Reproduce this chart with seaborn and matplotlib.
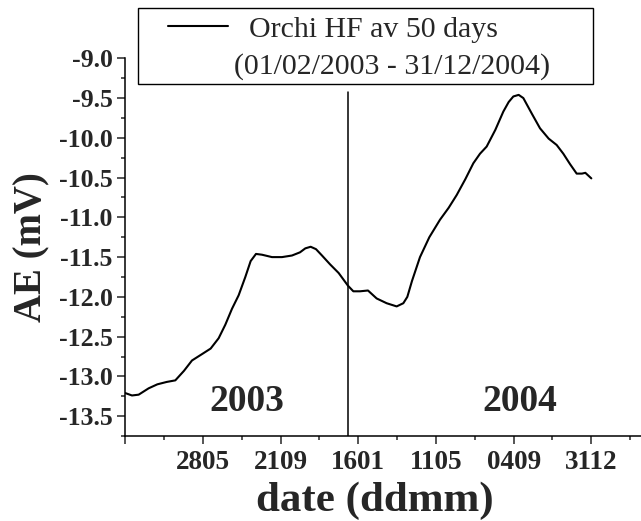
import numpy as np
import pandas as pd
import matplotlib
matplotlib.use("Agg")
import matplotlib.pyplot as plt
from matplotlib.patches import Rectangle
from matplotlib.ticker import MultipleLocator, FixedLocator
import seaborn as sns

# ── Data: days since 01/02/2003, 50-day running mean of AE (mV) ────────────
days = [0, 10, 20, 35, 48, 62, 75, 88, 100, 115, 128, 140, 150, 160, 170,
        180, 188, 196, 205, 220, 235, 250, 262, 270, 278, 286, 295, 307,
        320, 334, 342, 352, 364, 377, 392, 407, 417, 423, 430, 442, 456,
        472, 485, 497, 510, 522, 532, 542, 555, 567, 575, 582, 590, 597,
        610, 622, 635, 647, 657, 667, 677, 685, 690, 699]
ae_mv = [-13.21, -13.24, -13.23, -13.15, -13.10, -13.07, -13.05, -12.93,
         -12.80, -12.72, -12.65, -12.52, -12.35, -12.15, -11.98, -11.75,
         -11.55, -11.46, -11.47, -11.50, -11.50, -11.48, -11.44, -11.39,
         -11.37, -11.40, -11.48, -11.59, -11.70, -11.86, -11.93, -11.93,
         -11.92, -12.02, -12.08, -12.12, -12.08, -12.00, -11.80, -11.50,
         -11.25, -11.03, -10.88, -10.72, -10.52, -10.32, -10.20, -10.11,
         -9.90, -9.67, -9.55, -9.48, -9.46, -9.50, -9.70, -9.88, -10.01,
         -10.09, -10.20, -10.33, -10.45, -10.45, -10.44, -10.51]

tick_days = [0, 116.5, 233, 349.5, 466, 582.5, 699]
tick_labels = ["", "2805", "2109", "1601", "1105", "0409", "3112"]
year_split = 334            # 01/01/2004
year_labels = [("2003", 182), ("2004", 592)]

df = pd.DataFrame({"day": days, "AE": ae_mv})

# ── Style ───────────────────────────────────────────────────────────────────
sns.set_style("ticks")
plt.rcParams["font.family"] = ["Liberation Serif", "DejaVu Serif"]
plt.rcParams["axes.unicode_minus"] = False

W, H = 641, 521
fig = plt.figure(figsize=(W / 100, H / 100), dpi=100)
ax = fig.add_axes([0.1955, 0.1631, 0.8045, 0.725])

sns.lineplot(data=df, x="day", y="AE", color="black", linewidth=1.5,
             ax=ax, label="  Orchi HF av 50 days")
ax.plot([], [], color="none", label="(01/02/2003 - 31/12/2004)")

ax.plot([year_split, year_split], [-13.75, -9.43], color="black",
        linewidth=1.1)

for txt, xd in year_labels:
    ax.text(xd, -13.32, txt, ha="center", va="center",
            fontsize=27, fontweight="bold")

ax.set_xlim(0, 773.5)
ax.set_ylim(-13.75, -9.0)

ax.xaxis.set_major_locator(FixedLocator(tick_days))
ax.set_xticklabels(tick_labels)
ax.xaxis.set_minor_locator(FixedLocator([d + 58.25 for d in tick_days]))
ax.yaxis.set_major_locator(MultipleLocator(0.5))
ax.yaxis.set_minor_locator(MultipleLocator(0.25))
ax.yaxis.set_major_formatter(matplotlib.ticker.FormatStrFormatter("%.1f"))

ax.tick_params(which="major", length=6, width=1.1, pad=3, direction="out")
ax.tick_params(axis="y", which="major", labelsize=18.5)
ax.tick_params(axis="x", which="major", labelsize=19.5, pad=4)
ax.tick_params(which="minor", length=3, width=1.1, direction="out")
for lab in ax.get_xticklabels() + ax.get_yticklabels():
    lab.set_fontweight("bold")

sns.despine(ax=ax)
for sp in ("left", "bottom"):
    ax.spines[sp].set_linewidth(1.1)
    ax.spines[sp].set_color("black")

ax.set_xlabel("date (ddmm)", fontsize=31, fontweight="bold", labelpad=5)
ax.xaxis.label.set_x((375 - 125.3) / (W - 125.3))
ax.set_ylabel("AE (mV)", fontsize=28, fontweight="bold", labelpad=6)

# legend entries without frame, box drawn separately to match reference
leg = ax.legend(loc="upper left", fontsize=21.5, frameon=False,
                handlelength=2.0, handletextpad=0.2, borderpad=0.0,
                labelspacing=0.32, borderaxespad=0.0)
leg.set_bbox_to_anchor((168 / W, 1 - 16 / H), transform=fig.transFigure)
fig.patches.append(Rectangle((138 / W, 1 - 84 / H), (593 - 138) / W, 76 / H,
                             transform=fig.transFigure, fill=False,
                             edgecolor="black", linewidth=1.0))

fig.savefig("out.png", dpi=100)
